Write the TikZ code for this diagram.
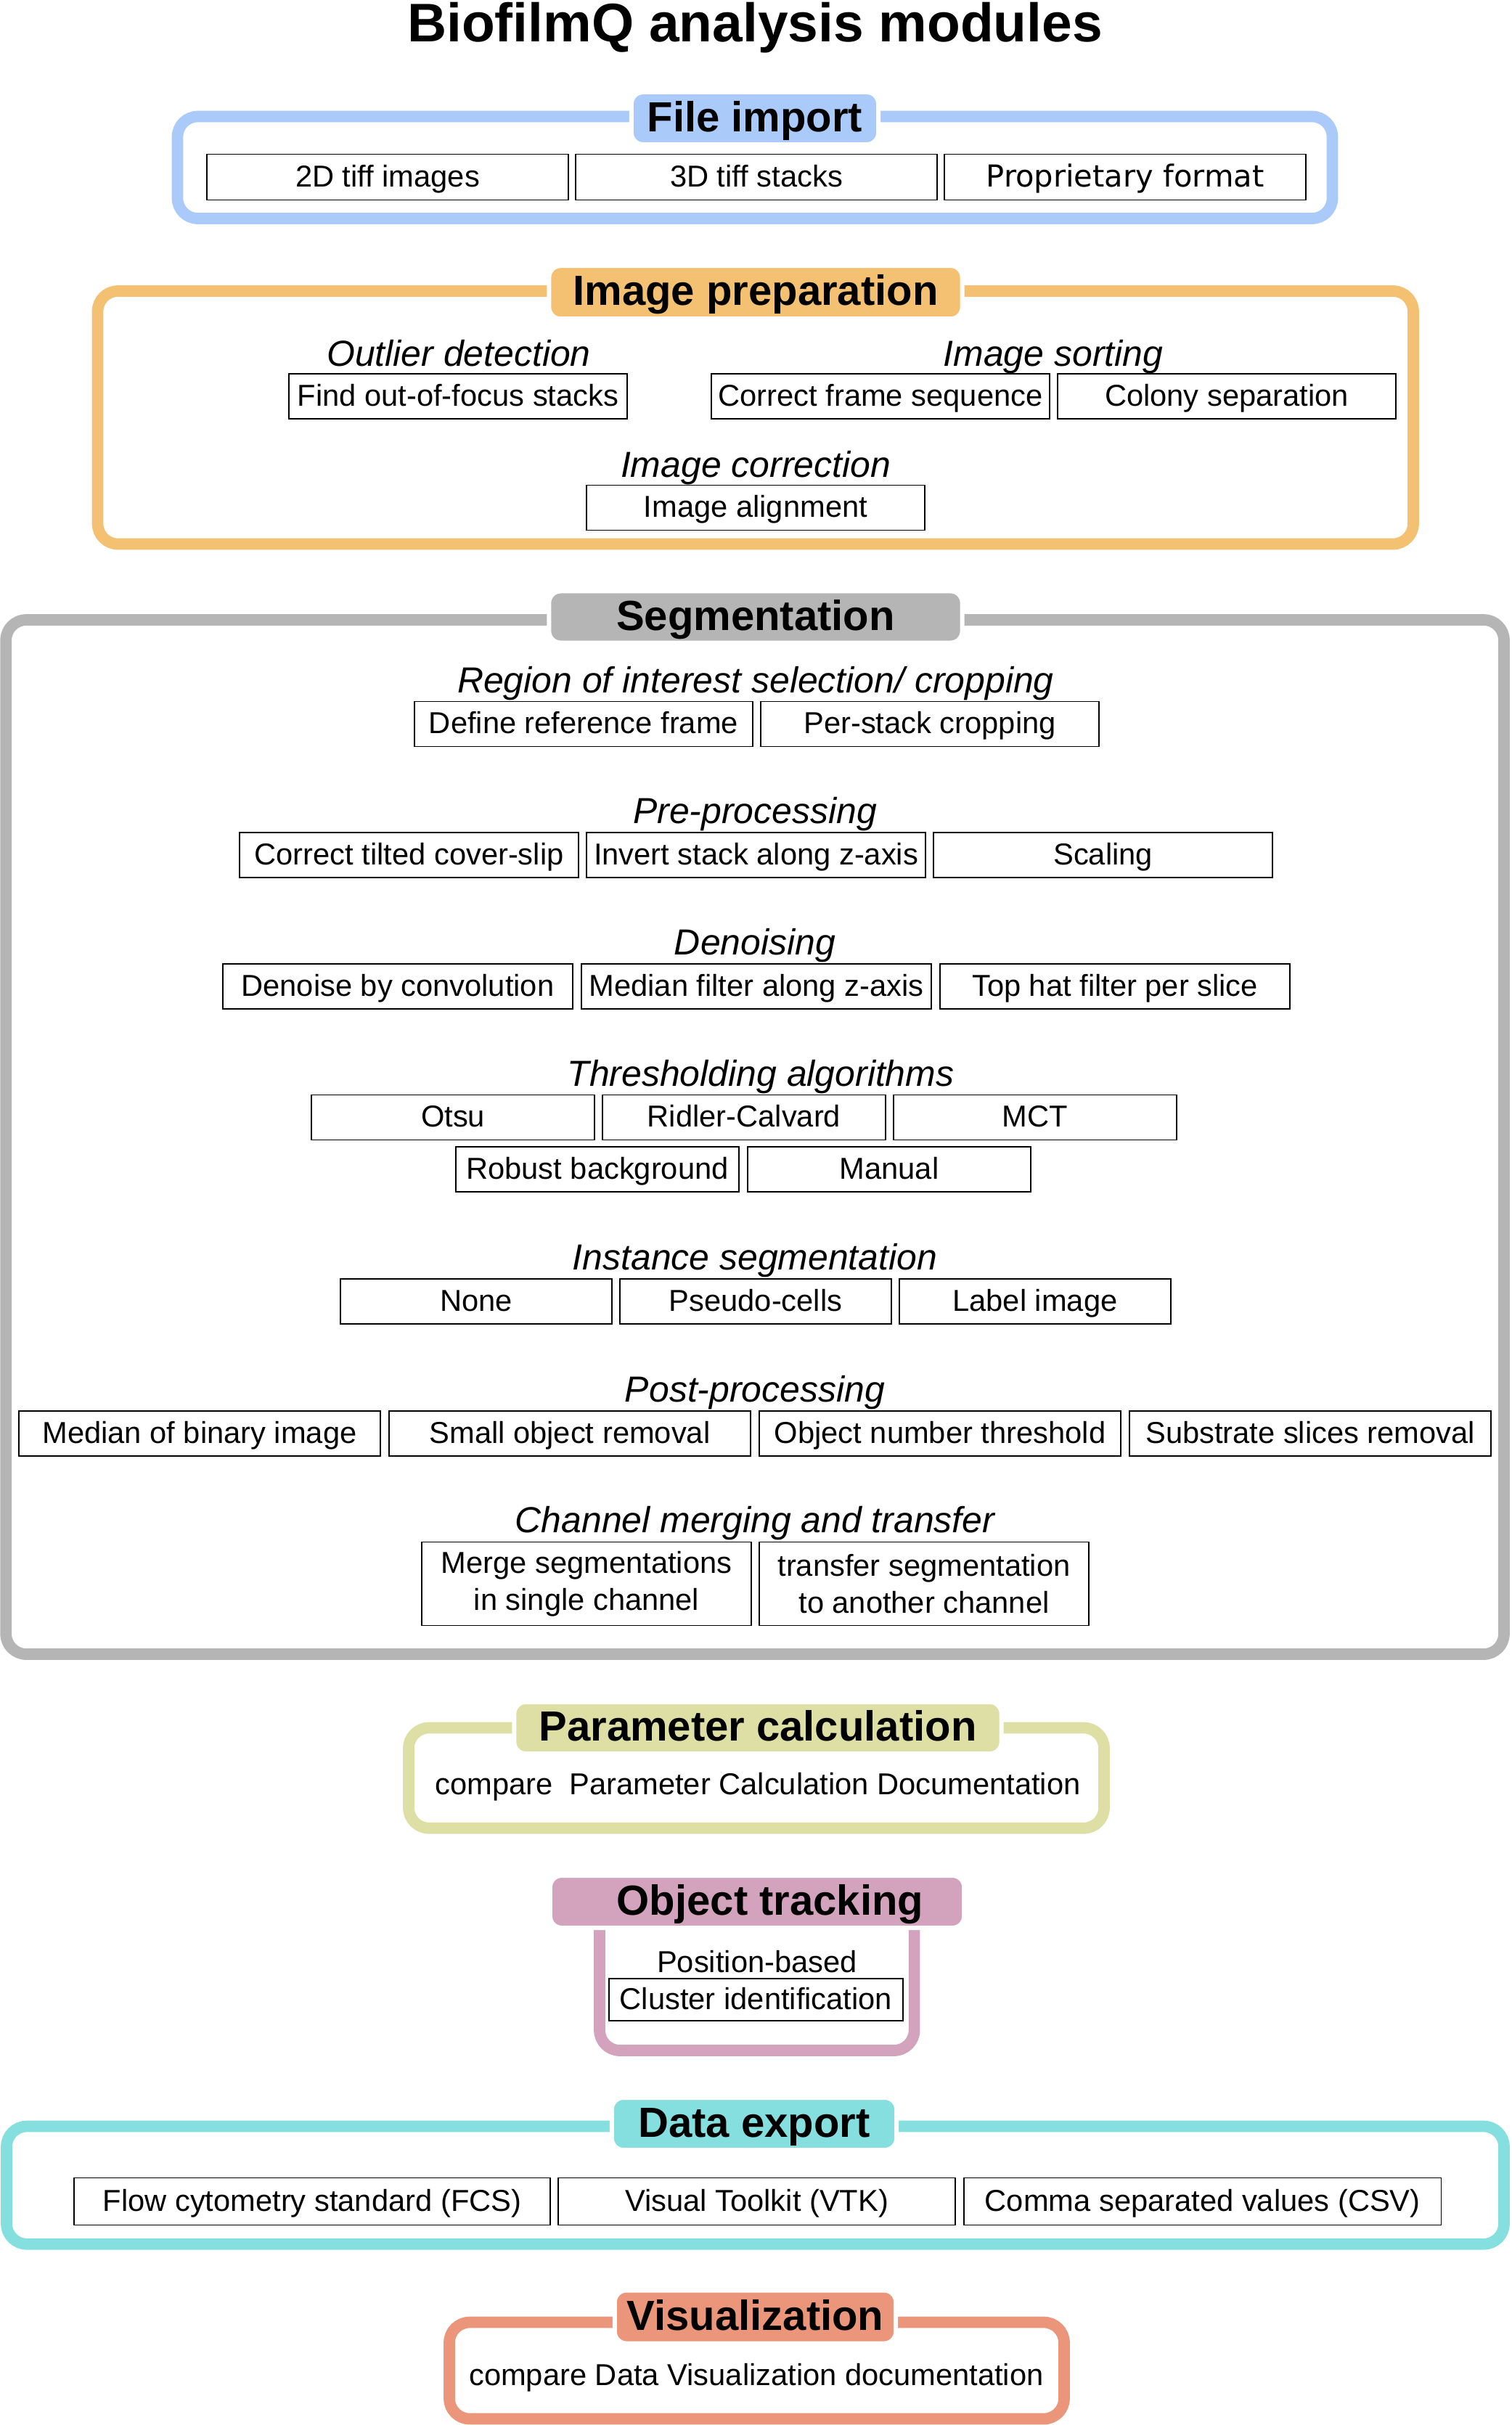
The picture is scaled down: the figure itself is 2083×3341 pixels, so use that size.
\documentclass[tikz,border=0pt]{standalone}
\usepackage{fontspec}
\setmainfont{Liberation Sans}
\newfontfamily\dejavu{DejaVu Sans}
\usepackage{tikz}
\usetikzlibrary{positioning}

\definecolor{importblue}{RGB}{170,203,250}
\definecolor{prepyellow}{RGB}{244,193,114}
\definecolor{seggray}{RGB}{181,181,181}
\definecolor{paramgreen}{RGB}{222,223,165}
\definecolor{trackpink}{RGB}{211,163,190}
\definecolor{exportcyan}{RGB}{133,223,222}
\definecolor{vissalmon}{RGB}{235,150,123}

\begin{document}
\begin{tikzpicture}[x=0.01cm,y=-0.01cm,
  frame/.style={line width=0.157cm, rounded corners=0.28cm},
  pill/.style={draw=white, line width=0.06cm, rounded corners=0.16cm, inner sep=0pt,
    font=\bfseries\fontsize{16.5}{19}\selectfont, text height=0.42cm, text depth=0.06cm},
  box/.style={draw, line width=0.5pt, inner sep=0pt, minimum height=0.62cm,
    text height=0.30cm, text depth=0.04cm, font=\fontsize{11.85}{14}\selectfont},
  box2/.style={draw, line width=0.5pt, inner sep=0pt, minimum height=1.15cm,
    align=center, font=\fontsize{11.85}{14.5}\selectfont},
  topic/.style={anchor=base, font=\itshape\fontsize{14.2}{17}\selectfont},
  note/.style={anchor=base, font=\fontsize{11.85}{14}\selectfont}]

  \useasboundingbox (0,0) rectangle (2083,3341);

  \node[anchor=base, font=\bfseries\fontsize{21.3}{25}\selectfont] (title) at (1040,57) {BiofilmQ analysis modules};

  \draw[frame, importblue] (244.5,160.5) rectangle (1835.5,301);
  \node[pill, fill=importblue, minimum width=3.40cm, minimum height=0.72cm] (importhd) at (1040,163) {File import};
  \node[box, minimum width=4.98cm, minimum height=0.63cm] (tiff2d) at (534,244) {2D tiff images};
  \node[box, minimum width=4.98cm, minimum height=0.63cm, right=0.08cm of tiff2d] (tiff3d) {3D tiff stacks};
  \node[box, minimum width=4.98cm, minimum height=0.63cm, right=0.08cm of tiff3d] (propfmt) {{\dejavu Proprietary format}};

  \draw[frame, prepyellow] (134.5,401) rectangle (1947,749.5);
  \node[pill, fill=prepyellow, minimum width=5.69cm, minimum height=0.73cm] (prephd) at (1041,402.7) {Image preparation};
  \node[topic] (outlier) at (632,504) {Outlier detection};
  \node[box, minimum width=4.66cm] (focus) at (631,546.3) {Find out-of-focus stacks};
  \node[topic] (sorting) at (1451,504) {Image sorting};
  \node[box, minimum width=4.66cm] (frameseq) at (1213,546.3) {Correct frame sequence};
  \node[box, minimum width=4.66cm, right=0.09cm of frameseq] (colony) {Colony separation};
  \node[topic] (correction) at (1041,657) {Image correction};
  \node[box, minimum width=4.66cm] (alignment) at (1041,699.5) {Image alignment};

  \draw[frame, seggray] (8.2,854) rectangle (2072,2279);
  \node[pill, fill=seggray, minimum width=5.69cm, minimum height=0.71cm] (seghd) at (1041,850) {Segmentation};
  \node[topic] (roi) at (1041,954) {Region of interest selection/ cropping};
  \node[box, minimum width=4.66cm] (refframe) at (804,997.5) {Define reference frame};
  \node[box, minimum width=4.66cm, right=0.09cm of refframe] (stackcrop) {Per-stack cropping};
  \node[topic] (preproc) at (1040,1134) {Pre-processing};
  \node[box, minimum width=4.67cm] (tilt) at (563.5,1178) {Correct tilted cover-slip};
  \node[box, minimum width=4.67cm, right=0.09cm of tilt] (invert) {Invert stack along z-axis};
  \node[box, minimum width=4.67cm, right=0.09cm of invert] (scaling) {Scaling};
  \node[topic] (denoise) at (1040,1315) {Denoising};
  \node[box, minimum width=4.82cm] (convol) at (548,1359) {Denoise by convolution};
  \node[box, minimum width=4.82cm, right=0.1cm of convol] (median) {Median filter along z-axis};
  \node[box, minimum width=4.82cm, right=0.1cm of median] (tophat) {Top hat filter per slice};
  \node[topic] (thresh) at (1048,1496) {Thresholding algorithms};
  \node[box, minimum width=3.9cm] (otsu) at (624,1539.5) {Otsu};
  \node[box, minimum width=3.9cm, right=0.09cm of otsu] (ridler) {Ridler-Calvard};
  \node[box, minimum width=3.9cm, right=0.09cm of ridler] (mct) {MCT};
  \node[box, minimum width=3.9cm] (robust) at (823,1611) {Robust background};
  \node[box, minimum width=3.9cm, right=0.1cm of robust] (manual) {Manual};
  \node[topic] (instance) at (1040,1749) {Instance segmentation};
  \node[box, minimum width=3.74cm] (nonebox) at (656,1793.3) {None};
  \node[box, minimum width=3.74cm, right=0.09cm of nonebox] (pseudo) {Pseudo-cells};
  \node[box, minimum width=3.74cm, right=0.09cm of pseudo] (labelimg) {Label image};
  \node[topic] (postproc) at (1040,1931) {Post-processing};
  \node[box, minimum width=4.98cm] (binmed) at (275,1975) {Median of binary image};
  \node[box, minimum width=4.98cm, right=0.1cm of binmed] (smallobj) {Small object removal};
  \node[box, minimum width=4.98cm, right=0.1cm of smallobj] (objnum) {Object number threshold};
  \node[box, minimum width=4.98cm, right=0.1cm of objnum] (substrate) {Substrate slices removal};
  \node[topic] (channel) at (1040,2111) {Channel merging and transfer};
  \node[box2, minimum width=4.54cm] (merge) at (808,2182) {Merge segmentations\\in single channel};
  \node[box2, minimum width=4.54cm, right=0.09cm of merge] (transfer) {transfer segmentation\\to another channel};

  \draw[frame, paramgreen] (563,2380.5) rectangle (1521,2518.7);
  \node[pill, fill=paramgreen, minimum width=6.71cm, minimum height=0.71cm] (paramhd) at (1044,2380.5) {Parameter calculation};
  \node[note] (paramdoc) at (1044,2472) {compare~~Parameter Calculation Documentation};

  \draw[frame, trackpink] (826,2620) rectangle (1259.6,2825);
  \node[pill, fill=trackpink, minimum width=5.70cm, minimum height=0.72cm] (trackhd) at (1043,2620) {\hspace*{0.36cm}Object tracking};
  \node[note] (posbased) at (1043,2717) {Position-based};
  \node[box, minimum width=4.05cm, minimum height=0.58cm] (cluster) at (1041.5,2755) {Cluster identification};

  \draw[frame, exportcyan] (9,2929.5) rectangle (2072,3091.7);
  \node[pill, fill=exportcyan, minimum width=3.92cm, minimum height=0.72cm] (exporthd) at (1039,2926) {Data export};
  \node[box, minimum width=6.56cm, minimum height=0.65cm] (fcs) at (430,3033) {Flow cytometry standard (FCS)};
  \node[box, minimum width=5.47cm, minimum height=0.65cm, right=0.09cm of fcs] (vtk) {Visual Toolkit (VTK)};
  \node[box, minimum width=6.57cm, minimum height=0.65cm, right=0.1cm of vtk] (csv) {Comma separated values (CSV)};

  \draw[frame, vissalmon] (619,3199.5) rectangle (1466,3332.5);
  \node[pill, fill=vissalmon, minimum width=3.87cm, minimum height=0.73cm] (vishd) at (1040.5,3192) {Visualization};
  \node[note] (visdoc) at (1042,3286) {compare Data Visualization documentation};

\end{tikzpicture}
\end{document}
